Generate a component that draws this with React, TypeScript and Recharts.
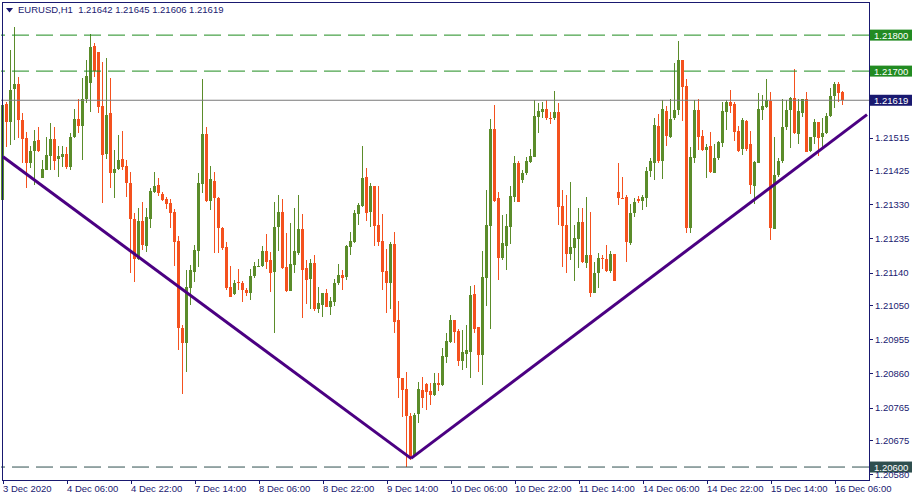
import React from 'react';
import { ComposedChart, Bar, XAxis, YAxis, ReferenceLine } from 'recharts';

// EURUSD H1, 3 Dec 2020 14:00 .. 16 Dec 2020 08:00
const symbol = 'EURUSD,H1';

const timeLabels = [
  '3 Dec 2020', '4 Dec 06:00', '4 Dec 22:00', '7 Dec 14:00', '8 Dec 06:00',
  '8 Dec 22:00', '9 Dec 14:00', '10 Dec 06:00', '10 Dec 22:00', '11 Dec 14:00',
  '14 Dec 06:00', '14 Dec 22:00', '15 Dec 14:00', '16 Dec 06:00',
];

const opens = [
  1.21341, 1.21608, 1.21558, 1.21650, 1.21664, 1.21564, 1.21514, 1.21445, 1.21477, 1.21508,
  1.21403, 1.21425, 1.21463, 1.21511, 1.21455, 1.21461, 1.21469, 1.21433, 1.21517, 1.21567,
  1.21547, 1.21622, 1.21667, 1.21769, 1.21753, 1.21603, 1.21469, 1.21583, 1.21417, 1.21428,
  1.21455, 1.21436, 1.21389, 1.21289, 1.21178, 1.21283, 1.21214, 1.21289, 1.21364, 1.21383,
  1.21358, 1.21344, 1.21333, 1.21308, 1.21228, 1.20986, 1.20944, 1.21097, 1.21141, 1.21200,
  1.21386, 1.21525, 1.21339, 1.21394, 1.21347, 1.21264, 1.21211, 1.21100, 1.21080, 1.21114,
  1.21111, 1.21091, 1.21083, 1.21130, 1.21155, 1.21158, 1.21200, 1.21175, 1.21141, 1.21266,
  1.21308, 1.21155, 1.21089, 1.21161, 1.21194, 1.21261, 1.21153, 1.21122, 1.21167, 1.21039,
  1.21050, 1.21083, 1.21044, 1.21058, 1.21111, 1.21133, 1.21128, 1.21211, 1.21225, 1.21303,
  1.21325, 1.21406, 1.21308, 1.21380, 1.21272, 1.21228, 1.21144, 1.21111, 1.21219, 1.21008,
  1.20847, 1.20817, 1.20742, 1.20631, 1.20747, 1.20814, 1.20830, 1.20811, 1.20800, 1.20833,
  1.20828, 1.20905, 1.20947, 1.21008, 1.20978, 1.20894, 1.20914, 1.20919, 1.21080, 1.20989,
  1.20911, 1.21125, 1.21269, 1.21539, 1.21347, 1.21180, 1.21214, 1.21266, 1.21350, 1.21445,
  1.21397, 1.21417, 1.21447, 1.21461, 1.21572, 1.21586, 1.21594, 1.21569, 1.21569, 1.21586,
  1.21325, 1.21272, 1.21192, 1.21208, 1.21233, 1.21280, 1.21167, 1.21189, 1.21083, 1.21139,
  1.21180, 1.21178, 1.21144, 1.21192, 1.21364, 1.21347, 1.21350, 1.21222, 1.21306, 1.21344,
  1.21339, 1.21347, 1.21422, 1.21445, 1.21547, 1.21450, 1.21589, 1.21517, 1.21569, 1.21591,
  1.21730, 1.21658, 1.21264, 1.21458, 1.21591, 1.21519, 1.21480, 1.21491, 1.21417, 1.21458,
  1.21500, 1.21586, 1.21613, 1.21608, 1.21533, 1.21483, 1.21561, 1.21497, 1.21380, 1.21445,
  1.21591, 1.21600, 1.21616, 1.21261, 1.21411, 1.21450, 1.21545, 1.21591, 1.21625, 1.21525,
  1.21583, 1.21622, 1.21477, 1.21517, 1.21558, 1.21517, 1.21528, 1.21575, 1.21630, 1.21664,
  1.21642,
];

const highs = [
  1.21695, 1.21613, 1.21758, 1.21822, 1.21684, 1.21583, 1.21530, 1.21491, 1.21536, 1.21545,
  1.21453, 1.21517, 1.21556, 1.21545, 1.21491, 1.21491, 1.21489, 1.21528, 1.21594, 1.21622,
  1.21681, 1.21730, 1.21803, 1.21778, 1.21753, 1.21725, 1.21736, 1.21681, 1.21480, 1.21522,
  1.21533, 1.21453, 1.21419, 1.21306, 1.21319, 1.21336, 1.21319, 1.21375, 1.21419, 1.21403,
  1.21364, 1.21350, 1.21344, 1.21317, 1.21242, 1.20994, 1.21147, 1.21161, 1.21216, 1.21417,
  1.21678, 1.21545, 1.21436, 1.21419, 1.21350, 1.21266, 1.21225, 1.21158, 1.21119, 1.21150,
  1.21117, 1.21097, 1.21150, 1.21169, 1.21178, 1.21214, 1.21247, 1.21197, 1.21336, 1.21355,
  1.21344, 1.21250, 1.21278, 1.21319, 1.21355, 1.21303, 1.21175, 1.21178, 1.21189, 1.21100,
  1.21083, 1.21094, 1.21072, 1.21122, 1.21164, 1.21147, 1.21216, 1.21253, 1.21314, 1.21333,
  1.21491, 1.21431, 1.21389, 1.21380, 1.21380, 1.21303, 1.21205, 1.21225, 1.21253, 1.21061,
  1.20847, 1.20864, 1.20750, 1.20750, 1.20836, 1.20850, 1.20833, 1.20833, 1.20861, 1.20861,
  1.20930, 1.20972, 1.21022, 1.21008, 1.20983, 1.20980, 1.20994, 1.21103, 1.21105, 1.20989,
  1.21200, 1.21369, 1.21567, 1.21605, 1.21364, 1.21300, 1.21303, 1.21380, 1.21463, 1.21450,
  1.21425, 1.21461, 1.21483, 1.21619, 1.21611, 1.21613, 1.21619, 1.21586, 1.21644, 1.21611,
  1.21369, 1.21355, 1.21392, 1.21272, 1.21319, 1.21319, 1.21350, 1.21308, 1.21169, 1.21194,
  1.21189, 1.21216, 1.21200, 1.21192, 1.21445, 1.21406, 1.21355, 1.21330, 1.21347, 1.21353,
  1.21355, 1.21433, 1.21458, 1.21569, 1.21580, 1.21619, 1.21603, 1.21622, 1.21722, 1.21783,
  1.21730, 1.21678, 1.21489, 1.21619, 1.21622, 1.21536, 1.21497, 1.21530, 1.21497, 1.21505,
  1.21613, 1.21619, 1.21647, 1.21613, 1.21547, 1.21569, 1.21564, 1.21533, 1.21450, 1.21639,
  1.21633, 1.21678, 1.21641, 1.21517, 1.21458, 1.21622, 1.21619, 1.21628, 1.21705, 1.21622,
  1.21622, 1.21641, 1.21517, 1.21567, 1.21558, 1.21569, 1.21583, 1.21653, 1.21669, 1.21669,
  1.21645,
];

const lows = [
  1.21236, 1.21489, 1.21494, 1.21508, 1.21514, 1.21445, 1.21375, 1.21431, 1.21383, 1.21474,
  1.21403, 1.21425, 1.21425, 1.21425, 1.21406, 1.21433, 1.21428, 1.21425, 1.21514, 1.21528,
  1.21453, 1.21611, 1.21586, 1.21684, 1.21583, 1.21333, 1.21455, 1.21375, 1.21347, 1.21425,
  1.21425, 1.21350, 1.21139, 1.21114, 1.21175, 1.21203, 1.21197, 1.21264, 1.21361, 1.21353,
  1.21339, 1.21317, 1.21264, 1.21158, 1.20925, 1.20803, 1.20864, 1.21050, 1.21114, 1.21155,
  1.21361, 1.21336, 1.21314, 1.21194, 1.21194, 1.21203, 1.21091, 1.21072, 1.21078, 1.21091,
  1.21058, 1.21075, 1.21064, 1.21125, 1.21155, 1.21155, 1.21150, 1.21086, 1.20972, 1.21200,
  1.21150, 1.21086, 1.21089, 1.21139, 1.21189, 1.21014, 1.21053, 1.21039, 1.21033, 1.21028,
  1.21017, 1.21044, 1.21022, 1.21047, 1.21105, 1.21091, 1.21119, 1.21189, 1.21222, 1.21272,
  1.21322, 1.21283, 1.21266, 1.21214, 1.21214, 1.21091, 1.21028, 1.21039, 1.20972, 1.20792,
  1.20739, 1.20600, 1.20619, 1.20628, 1.20722, 1.20764, 1.20758, 1.20772, 1.20797, 1.20811,
  1.20825, 1.20889, 1.20944, 1.20944, 1.20880, 1.20869, 1.20875, 1.20847, 1.20972, 1.20864,
  1.20828, 1.21047, 1.20983, 1.21336, 1.21119, 1.21175, 1.21147, 1.21219, 1.21336, 1.21336,
  1.21389, 1.21411, 1.21445, 1.21461, 1.21528, 1.21569, 1.21564, 1.21553, 1.21564, 1.21272,
  1.21155, 1.21139, 1.21175, 1.21117, 1.21153, 1.21167, 1.21153, 1.21072, 1.21083, 1.21097,
  1.21150, 1.21141, 1.21139, 1.21117, 1.21328, 1.21345, 1.21169, 1.21216, 1.21294, 1.21333,
  1.21314, 1.21322, 1.21406, 1.21397, 1.21445, 1.21400, 1.21491, 1.21514, 1.21564, 1.21578,
  1.21561, 1.21250, 1.21250, 1.21445, 1.21480, 1.21477, 1.21403, 1.21417, 1.21417, 1.21453,
  1.21489, 1.21536, 1.21583, 1.21505, 1.21474, 1.21466, 1.21477, 1.21358, 1.21330, 1.21445,
  1.21564, 1.21597, 1.21230, 1.21261, 1.21406, 1.21445, 1.21536, 1.21486, 1.21525, 1.21497,
  1.21572, 1.21474, 1.21474, 1.21497, 1.21463, 1.21486, 1.21525, 1.21572, 1.21597, 1.21613,
  1.21606,
];

const closes = [
  1.21605, 1.21558, 1.21647, 1.21664, 1.21564, 1.21511, 1.21445, 1.21477, 1.21505, 1.21477,
  1.21428, 1.21466, 1.21511, 1.21450, 1.21463, 1.21469, 1.21433, 1.21517, 1.21567, 1.21547,
  1.21622, 1.21686, 1.21767, 1.21700, 1.21600, 1.21466, 1.21578, 1.21417, 1.21428, 1.21453,
  1.21433, 1.21389, 1.21289, 1.21178, 1.21283, 1.21216, 1.21294, 1.21366, 1.21380, 1.21361,
  1.21341, 1.21330, 1.21306, 1.21225, 1.20986, 1.20944, 1.21100, 1.21147, 1.21203, 1.21389,
  1.21525, 1.21339, 1.21400, 1.21347, 1.21264, 1.21208, 1.21097, 1.21072, 1.21111, 1.21111,
  1.21091, 1.21083, 1.21130, 1.21158, 1.21158, 1.21200, 1.21169, 1.21139, 1.21266, 1.21308,
  1.21153, 1.21089, 1.21164, 1.21200, 1.21261, 1.21147, 1.21119, 1.21167, 1.21039, 1.21055,
  1.21083, 1.21044, 1.21061, 1.21111, 1.21133, 1.21125, 1.21214, 1.21228, 1.21306, 1.21328,
  1.21403, 1.21306, 1.21380, 1.21269, 1.21225, 1.21141, 1.21111, 1.21219, 1.21003, 1.20847,
  1.20814, 1.20742, 1.20628, 1.20744, 1.20817, 1.20792, 1.20808, 1.20800, 1.20833, 1.20828,
  1.20908, 1.20950, 1.21008, 1.20975, 1.20894, 1.20919, 1.20925, 1.21078, 1.20983, 1.20911,
  1.21128, 1.21272, 1.21539, 1.21339, 1.21180, 1.21222, 1.21269, 1.21353, 1.21445, 1.21336,
  1.21417, 1.21450, 1.21463, 1.21575, 1.21589, 1.21594, 1.21569, 1.21567, 1.21586, 1.21322,
  1.21269, 1.21192, 1.21211, 1.21236, 1.21280, 1.21169, 1.21189, 1.21083, 1.21139, 1.21180,
  1.21178, 1.21144, 1.21192, 1.21117, 1.21347, 1.21345, 1.21225, 1.21306, 1.21336, 1.21339,
  1.21350, 1.21422, 1.21450, 1.21550, 1.21450, 1.21594, 1.21519, 1.21567, 1.21591, 1.21730,
  1.21655, 1.21264, 1.21461, 1.21591, 1.21517, 1.21480, 1.21489, 1.21419, 1.21458, 1.21503,
  1.21589, 1.21613, 1.21603, 1.21530, 1.21477, 1.21564, 1.21483, 1.21383, 1.21447, 1.21594,
  1.21603, 1.21619, 1.21264, 1.21411, 1.21450, 1.21545, 1.21591, 1.21625, 1.21528, 1.21589,
  1.21622, 1.21474, 1.21517, 1.21558, 1.21514, 1.21528, 1.21575, 1.21630, 1.21664, 1.21639,
  1.21619,
];

// right-hand price scale
const priceTicks = [
  1.21515, 1.21425, 1.2133, 1.21235, 1.2114, 1.2105, 1.20955, 1.2086, 1.20765, 1.20675, 1.2058,
];
const priceDomain = [1.20564, 1.21892];

// horizontal levels drawn on the chart
const resistanceLevels = [1.218, 1.217];
const supportLevel = 1.206;

// V-shaped trendline anchors (bar index, price)
const trendIdx = [0, 102, 216];
const trendPrice = [1.21462, 1.20624, 1.21579];

const SLOTS = 217; // bars + empty space on the right

const UP = '#5b8c2a';
const DOWN = '#f4511e';
const NAVY = '#191970';
const FONT = '"Liberation Sans", Arial, sans-serif';

const rows = Array.from({ length: SLOTS }, (_, i) =>
  i < closes.length
    ? { idx: i, open: opens[i], high: highs[i], low: lows[i], close: closes[i], range: [lows[i], highs[i]] }
    : { idx: i }
);

const Candle = (props: any) => {
  const { x, y, width, height, payload } = props;
  if (!payload || payload.open == null) return null;
  const { open, high, low, close } = payload;
  const perUnit = height / (high - low);
  const toY = (v: number) => y + (high - v) * perUnit;
  const color = close >= open ? UP : DOWN;
  const cx = Math.round(x + width / 2);
  const top = Math.round(toY(Math.max(open, close)));
  const bottom = Math.round(toY(Math.min(open, close)));
  return (
    <g>
      <line x1={cx - 0.5} x2={cx - 0.5} y1={Math.round(y)} y2={Math.round(y + height)} stroke={color} strokeWidth={1} />
      <rect x={cx - 2} y={top} width={3} height={Math.max(1, bottom - top)} fill={color} />
    </g>
  );
};

const XTick = ({ x, y, payload }: any) => {
  const label = timeLabels[payload.value / 16];
  if (!label) return null;
  const tx = Math.round(x) + 0.5;
  return (
    <g>
      <line x1={tx} x2={tx} y1={y} y2={y + 4} stroke={NAVY} />
      <text x={Math.round(x)} y={y + 12} fill={NAVY} fontSize={9.5} fontFamily={FONT} textAnchor="start">
        {label}
      </text>
    </g>
  );
};

const YTick = ({ x, y, payload }: any) => {
  const ty = Math.round(y) + 0.5;
  return (
    <g>
      <line x1={x} x2={x + 4} y1={ty} y2={ty} stroke={NAVY} />
      <text x={x + 6} y={y} dy={3.5} fill={NAVY} fontSize={9.5} fontFamily={FONT} textAnchor="start">
        {Number(payload.value).toFixed(5)}
      </text>
    </g>
  );
};

const PriceTag = ({ viewBox, value, bg }: any) => {
  if (!viewBox) return null;
  const right = viewBox.x + viewBox.width;
  const cy = viewBox.y;
  return (
    <g>
      <rect x={right + 1} y={cy - 5.5} width={42} height={11} fill={bg} />
      <text x={right + 5} y={cy} dy={3.5} fill="#ffffff" fontSize={9.5} fontFamily={FONT} textAnchor="start">
        {value.toFixed(5)}
      </text>
    </g>
  );
};

export default function App() {
  const last = closes.length - 1;
  const bid = closes[last];
  const title = `${symbol}  ${opens[last].toFixed(5)} ${highs[last].toFixed(5)} ${lows[last].toFixed(5)} ${bid.toFixed(5)}`;

  return (
    <div style={{ position: 'fixed', left: 0, top: 0, width: 915, height: 500, background: '#ffffff' }}>
      <ComposedChart
        width={915}
        height={500}
        data={rows}
        margin={{ top: 2, right: 0, bottom: 0, left: 1 }}
        barCategoryGap={0}
        barGap={0}
      >
        <XAxis
          dataKey="idx"
          type="category"
          interval={15}
          height={20}
          axisLine={false}
          tickLine={false}
          tickSize={0}
          tickMargin={0}
          tick={<XTick />}
        />
        <YAxis
          orientation="right"
          type="number"
          width={46}
          domain={priceDomain}
          ticks={priceTicks}
          interval={0}
          allowDataOverflow
          axisLine={false}
          tickLine={false}
          tickSize={0}
          tickMargin={0}
          tick={<YTick />}
        />
        <Bar dataKey="range" shape={<Candle />} isAnimationActive={false} />
        {resistanceLevels.map((v) => (
          <ReferenceLine
            key={v}
            y={v}
            stroke="#1e8c1e"
            strokeDasharray="17 7"
            label={<PriceTag value={v} bg="#228b22" />}
          />
        ))}
        <ReferenceLine y={bid} stroke="#7a7a7a" label={<PriceTag value={bid} bg={NAVY} />} />
        <ReferenceLine
          y={supportLevel}
          stroke="#2f4f4f"
          strokeDasharray="17 7"
          label={<PriceTag value={supportLevel} bg="#2f4f4f" />}
        />
        <ReferenceLine
          segment={[{ x: trendIdx[0], y: trendPrice[0] }, { x: trendIdx[1], y: trendPrice[1] }]}
          stroke="#4b0082"
          strokeWidth={3}
        />
        <ReferenceLine
          segment={[{ x: trendIdx[1], y: trendPrice[1] }, { x: trendIdx[2], y: trendPrice[2] }]}
          stroke="#4b0082"
          strokeWidth={3}
        />
      </ComposedChart>

      {/* chart frame */}
      <div
        style={{
          position: 'absolute', left: 2, top: 2, width: 868, height: 479,
          boxSizing: 'border-box', border: `1px solid ${NAVY}`, pointerEvents: 'none',
        }}
      />
      {/* symbol header */}
      <div
        style={{
          position: 'absolute', left: 6, top: 4, display: 'flex', alignItems: 'center',
          fontFamily: FONT, fontSize: 9.5, color: NAVY, whiteSpace: 'pre', lineHeight: '12px',
        }}
      >
        <svg width={7} height={5} style={{ marginRight: 5 }}>
          <polygon points="0,0 7,0 3.5,4.5" fill={NAVY} />
        </svg>
        {title}
      </div>
    </div>
  );
}
